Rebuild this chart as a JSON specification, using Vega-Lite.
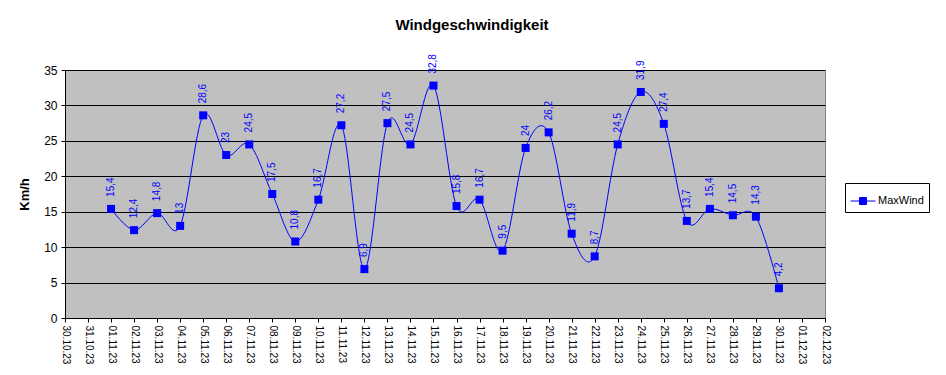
{
  "$schema": "https://vega.github.io/schema/vega-lite/v6.json",
  "autosize": "none",
  "width": 760,
  "height": 248,
  "padding": {"left": 65, "top": 70, "right": 121, "bottom": 57},
  "background": "white",
  "config": {
    "font": "Liberation Sans",
    "locale": {"number": {"decimal": ",", "thousands": ".", "grouping": [3], "currency": ["", " €"]}},
    "view": {"fill": "#c0c0c0", "stroke": "#808080", "strokeWidth": 1}
  },
  "title": {
    "text": "Windgeschwindigkeit",
    "font": "Liberation Sans",
    "fontSize": 15,
    "fontWeight": "bold",
    "color": "black",
    "anchor": "middle",
    "frame": "group",
    "dx": 27,
    "offset": 21
  },
  "data": {
    "values": [
      {"date": "01.11.23", "value": 15.4},
      {"date": "02.11.23", "value": 12.4},
      {"date": "03.11.23", "value": 14.8},
      {"date": "04.11.23", "value": 13},
      {"date": "05.11.23", "value": 28.6},
      {"date": "06.11.23", "value": 23},
      {"date": "07.11.23", "value": 24.5},
      {"date": "08.11.23", "value": 17.5},
      {"date": "09.11.23", "value": 10.8},
      {"date": "10.11.23", "value": 16.7},
      {"date": "11.11.23", "value": 27.2},
      {"date": "12.11.23", "value": 6.9},
      {"date": "13.11.23", "value": 27.5},
      {"date": "14.11.23", "value": 24.5},
      {"date": "15.11.23", "value": 32.8},
      {"date": "16.11.23", "value": 15.8},
      {"date": "17.11.23", "value": 16.7},
      {"date": "18.11.23", "value": 9.5},
      {"date": "19.11.23", "value": 24},
      {"date": "20.11.23", "value": 26.2},
      {"date": "21.11.23", "value": 11.9},
      {"date": "22.11.23", "value": 8.7},
      {"date": "23.11.23", "value": 24.5},
      {"date": "24.11.23", "value": 31.9},
      {"date": "25.11.23", "value": 27.4},
      {"date": "26.11.23", "value": 13.7},
      {"date": "27.11.23", "value": 15.4},
      {"date": "28.11.23", "value": 14.5},
      {"date": "29.11.23", "value": 14.3},
      {"date": "30.11.23", "value": 4.2}
    ]
  },
  "encoding": {
    "x": {
      "field": "date",
      "type": "ordinal",
      "sort": null,
      "scale": {
        "type": "point",
        "padding": 0,
        "domain": ["30.10.23", "31.10.23", "01.11.23", "02.11.23", "03.11.23", "04.11.23", "05.11.23", "06.11.23", "07.11.23", "08.11.23", "09.11.23", "10.11.23", "11.11.23", "12.11.23", "13.11.23", "14.11.23", "15.11.23", "16.11.23", "17.11.23", "18.11.23", "19.11.23", "20.11.23", "21.11.23", "22.11.23", "23.11.23", "24.11.23", "25.11.23", "26.11.23", "27.11.23", "28.11.23", "29.11.23", "30.11.23", "01.12.23", "02.12.23"]
      },
      "axis": {
        "title": null,
        "labelAngle": 90,
        "labelAlign": "left",
        "labelBaseline": "middle",
        "labelFontSize": 10,
        "labelColor": "black",
        "labelPadding": 3,
        "tickSize": 4,
        "tickColor": "black",
        "domainColor": "black",
        "grid": false
      }
    },
    "y": {
      "field": "value",
      "type": "quantitative",
      "scale": {"domain": [0, 35], "nice": false},
      "axis": {
        "title": "Km/h",
        "titleFontSize": 13,
        "titleFontWeight": "bold",
        "titleColor": "black",
        "titlePadding": 12,
        "values": [0, 5, 10, 15, 20, 25, 30, 35],
        "labelFontSize": 12,
        "labelColor": "black",
        "labelPadding": 4,
        "tickSize": 4,
        "tickColor": "black",
        "domainColor": "black",
        "grid": true,
        "gridColor": "black",
        "gridOpacity": 1,
        "gridWidth": 1
      }
    }
  },
  "layer": [
    {
      "mark": {"type": "line", "interpolate": "cardinal", "strokeWidth": 1},
      "encoding": {
        "color": {
          "datum": "MaxWind",
          "type": "nominal",
          "scale": {"range": ["#0000ff"]},
          "legend": {
            "title": null,
            "orient": "none",
            "legendX": 780,
            "legendY": 113,
            "strokeColor": "black",
            "fillColor": "white",
            "padding": 5,
            "labelFontSize": 11,
            "labelColor": "black",
            "symbolType": "M-1,0L1,0M-0.28,-0.28L0.28,-0.28L0.28,0.28L-0.28,0.28Z",
            "symbolSize": 625,
            "symbolFillColor": "#0000ff",
            "symbolStrokeColor": "#0000ff",
            "symbolStrokeWidth": 1,
            "labelOffset": 2
          }
        }
      }
    },
    {
      "mark": {"type": "square", "color": "#0000ff", "opacity": 1, "size": 64}
    },
    {
      "mark": {"type": "text", "angle": -90, "align": "left", "baseline": "middle", "dx": 12, "fontSize": 10, "color": "#0000ff"},
      "encoding": {
        "text": {"field": "value", "type": "quantitative", "format": ""}
      }
    }
  ]
}
